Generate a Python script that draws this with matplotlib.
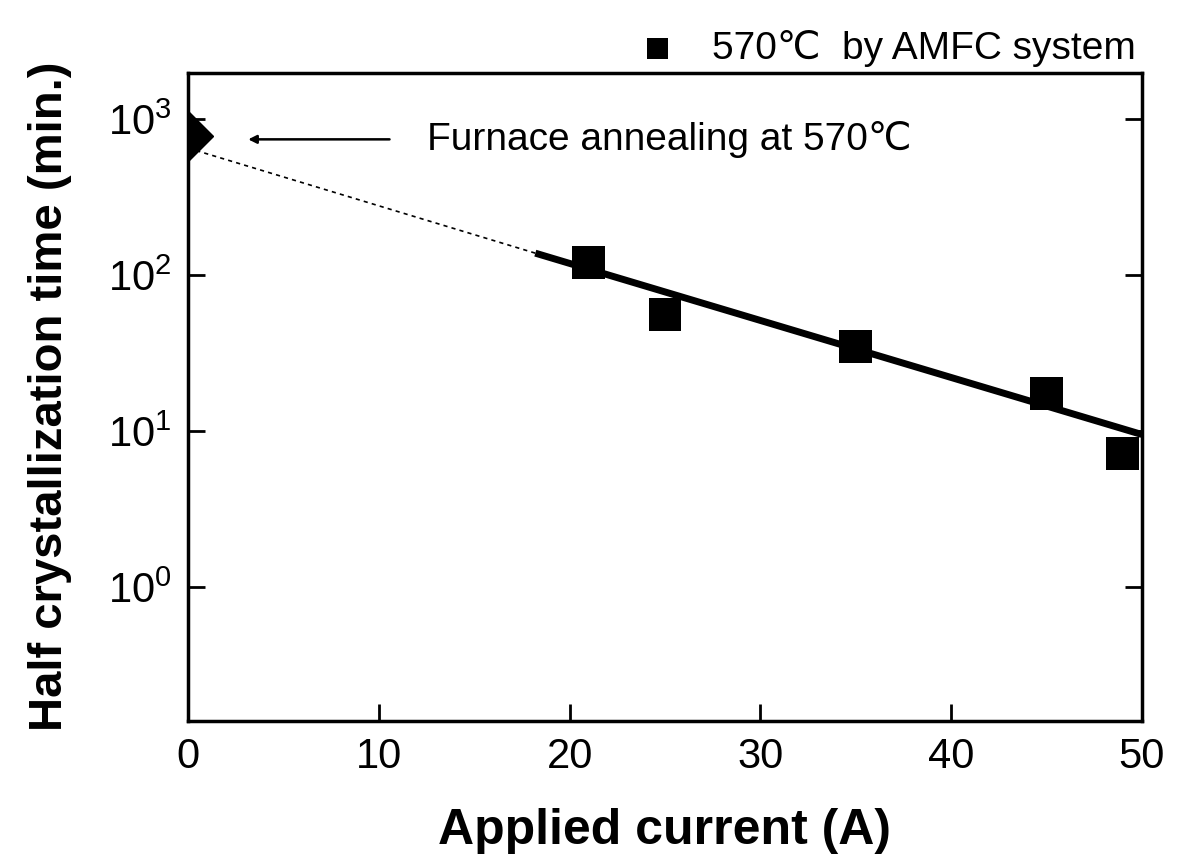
import matplotlib
matplotlib.use("Agg")
import matplotlib.pyplot as plt
from matplotlib import font_manager

# -----------------------------------------------------------------
# data
# -----------------------------------------------------------------
current = [21, 25, 35, 45, 49]          # applied current (A)
half_time = [120, 56, 35, 17.3, 7.2]    # half crystallization time (min.)

furnace_x = [0]
furnace_y = [780]

fit_x = [18.2, 50]          # solid fit line ends
fit_y = [138, 9.5]
extra_x = [0, 18.2]         # dashed extrapolation
extra_y = [650, 138]

xticks = [0, 10, 20, 30, 40, 50]
yticks = [1, 10, 100, 1000]
ytick_labels = ["$10^0$", "$10^1$", "$10^2$", "$10^3$"]

installed = {f.name for f in font_manager.fontManager.ttflist}
narrow = "Liberation Sans Narrow" if "Liberation Sans Narrow" in installed else "Liberation Sans"
plain = ["Liberation Sans", "DejaVu Sans"]
plt.rcParams['font.family'] = plain
plt.rcParams['mathtext.fontset'] = 'custom'
plt.rcParams['mathtext.rm'] = 'Liberation Sans'

fig = plt.figure(figsize=(11.93, 8.59), dpi=100)
ax = fig.add_axes([0.1578, 0.161, 0.7992, 0.7544])

ax.plot(extra_x, extra_y, color='black', lw=1.2, ls=(0, (2.5, 2.5)))
ax.plot(fit_x, fit_y, color='black', lw=5, solid_capstyle='butt')
ax.scatter(current, half_time, marker='s', s=560, color='black',
           edgecolor='none', zorder=3, label="570\u2103  by AMFC system")
ax.plot(furnace_x, furnace_y, marker='D', ms=25, color='black', ls='none',
        zorder=3)

ax.annotate("", xy=(3.0, 740), xytext=(10.7, 740),
            arrowprops=dict(arrowstyle='-|>', color='black', lw=1.8,
                            mutation_scale=12))
ax.text(12.5, 740, "Furnace annealing at 570\u2103", fontsize=28,
        va='center', ha='left', family=plain)

ax.set_yscale('log')
ax.set_xlim(0, 50)
ax.set_ylim(0.139, 1980)
ax.set_xticks(xticks)
ax.set_yticks(yticks)
ax.set_yticklabels(ytick_labels)
ax.minorticks_off()
ax.tick_params(axis='both', direction='in', length=12, width=2,
               labelsize=30, pad=12)
ax.tick_params(axis='y', right=True)
for sp in ax.spines.values():
    sp.set_linewidth(2.5)

ax.set_xlabel("Applied current (A)", fontsize=36, fontweight='bold',
              family=[narrow, 'DejaVu Sans'], labelpad=22)
ax.set_ylabel("Half crystallization time (min.)", fontsize=34,
              fontweight='bold', family=[narrow, 'DejaVu Sans'], labelpad=26)

ax.legend(loc='lower right', bbox_to_anchor=(1.0, 1.0), frameon=False,
          fontsize=28, handletextpad=0.4, borderaxespad=0, scatterpoints=1,
          markerscale=0.65, borderpad=0.15)

fig.savefig("out.png", dpi=100)
